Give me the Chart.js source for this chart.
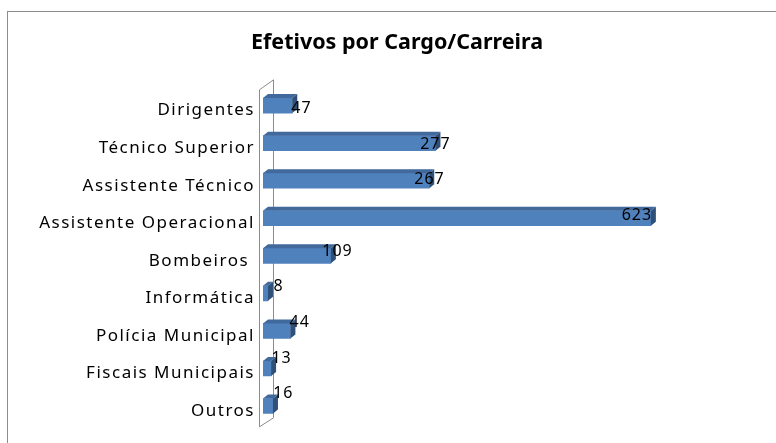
<!DOCTYPE html>
<html>
<head>
<meta charset="utf-8">
<script src="https://cdn.jsdelivr.net/npm/chart.js@4.4.0/dist/chart.umd.min.js"></script>
<style>
  html, body { margin: 0; padding: 0; background: #fff; }
  #wrap { width: 776px; height: 443px; }
</style>
</head>
<body>
<div id="wrap"><canvas id="cargoChart"></canvas></div>
<script>
// Efetivos por cargo / carreira
const categories = ['Dirigentes', 'Técnico Superior', 'Assistente Técnico', 'Assistente Operacional',
  'Bombeiros ', 'Informática', 'Polícia Municipal', 'Fiscais Municipais', 'Outros'];
const efetivos = [47, 277, 267, 623, 109, 8, 44, 13, 16];
// hidden value axis; plot runs to the right edge of the frame
const axisRange = [0, 824];

const FRONT = '#4F81BD';
const TOP = '#41699B';
const SIDE = '#2E5079';
const WALL = '#8C8C8C';

// outer frame + 3D wall behind the bars
const wallPlugin = {
  id: 'wall',
  beforeDraw(chart) {
    const ctx = chart.ctx;
    ctx.save();
    ctx.strokeStyle = WALL;
    ctx.lineWidth = 1;
    ctx.strokeRect(7.5, 11.5, 900, 600);
    ctx.restore();

    // spaced-out category labels (like the original)
    const yScale = chart.scales.y;
    if (!yScale._spaced) {
      const orig = yScale.drawLabels;
      yScale.drawLabels = function (area) {
        const c = this.ctx;
        c.save();
        c.letterSpacing = '1.5px';
        orig.call(this, area);
        c.letterSpacing = '0px';
        c.restore();
      };
      yScale._spaced = true;
    }
  },
  beforeDatasetsDraw(chart) {
    const { ctx, chartArea: a } = chart;
    const fx = Math.round(a.left) - 3.5, bx = fx + 14;
    ctx.save();
    ctx.strokeStyle = WALL;
    ctx.lineWidth = 1;
    ctx.beginPath();
    ctx.moveTo(fx, a.top + 3);
    ctx.lineTo(fx, a.bottom + 2);
    ctx.lineTo(bx, a.bottom - 7);
    ctx.lineTo(bx, a.top - 7);
    ctx.lineTo(fx, a.top + 3);
    ctx.stroke();
    ctx.restore();
  }
};

// top and side faces of each bar, then the value labels
const barsPlugin = {
  id: 'bars3d',
  afterDatasetsDraw(chart) {
    const ctx = chart.ctx;
    const meta = chart.getDatasetMeta(0);
    const dx = 5, dy = 4;
    ctx.save();
    meta.data.forEach((bar) => {
      const { x, y, base, height } = bar.getProps(['x', 'y', 'base', 'height'], true);
      const t = y - height / 2, b = y + height / 2;
      ctx.fillStyle = TOP;
      ctx.beginPath();
      ctx.moveTo(base, t);
      ctx.lineTo(base + dx, t - dy);
      ctx.lineTo(x + dx, t - dy);
      ctx.lineTo(x, t);
      ctx.closePath();
      ctx.fill();
      ctx.fillStyle = SIDE;
      ctx.beginPath();
      ctx.moveTo(x, t);
      ctx.lineTo(x + dx, t - dy);
      ctx.lineTo(x + dx, b - dy);
      ctx.lineTo(x, b);
      ctx.closePath();
      ctx.fill();
    });
    ctx.font = '16px "Noto Sans"';
    ctx.letterSpacing = '1px';
    ctx.fillStyle = '#000';
    ctx.textAlign = 'center';
    ctx.textBaseline = 'middle';
    meta.data.forEach((bar, i) => {
      const v = efetivos[i];
      ctx.fillText(String(v), bar.x + 11 - 0.04 * v, bar.y + 3 - 1.9 * i);
    });
    ctx.letterSpacing = '0px';
    ctx.restore();
  }
};

new Chart(document.getElementById('cargoChart'), {
  type: 'bar',
  data: {
    labels: categories,
    datasets: [{
      data: efetivos,
      backgroundColor: FRONT,
      borderWidth: 0,
      barThickness: 15
    }]
  },
  options: {
    indexAxis: 'y',
    responsive: true,
    maintainAspectRatio: false,
    animation: false,
    devicePixelRatio: 1,
    layout: { padding: { top: 30, right: 0, bottom: 13, left: 18 } },
    plugins: {
      legend: { display: false },
      tooltip: { enabled: false },
      title: {
        display: true,
        text: 'Efetivos por Cargo/Carreira',
        color: '#000',
        font: { family: '"Noto Sans"', size: 21.5, weight: 'bold' },
        padding: { top: 0, bottom: 31 }
      }
    },
    scales: {
      x: { display: false, min: axisRange[0], max: axisRange[1] },
      y: {
        grid: { display: false, drawTicks: false },
        border: { display: false },
        ticks: {
          color: '#000',
          font: { family: '"Noto Sans"', size: 17 },
          padding: 8,
          labelOffset: 5
        },
        afterFit(scale) { scale.width = 245; }
      }
    }
  },
  plugins: [wallPlugin, barsPlugin]
});
</script>
</body>
</html>
